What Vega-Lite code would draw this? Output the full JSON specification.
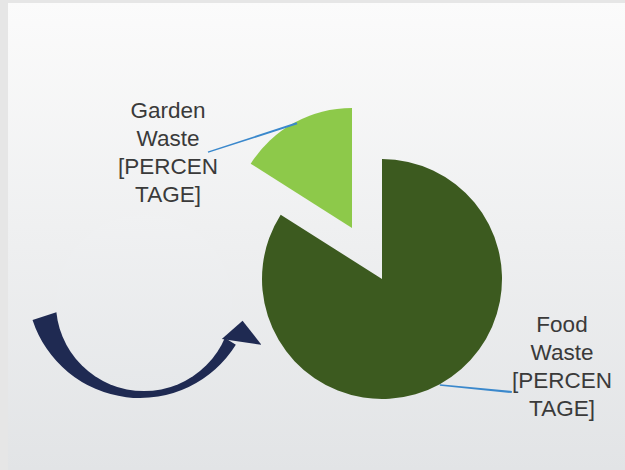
{
  "$schema": "https://vega.github.io/schema/vega-lite/v6.json",
  "width": 617,
  "height": 467,
  "autosize": {"type": "none"},
  "padding": {"left": 8, "top": 3, "right": 0, "bottom": 0},
  "background": "#e6e6e6",
  "config": {
    "view": {"stroke": null},
    "text": {"font": "Liberation Sans"}
  },
  "data": {"values": [
    {"category": "Food Waste", "value": 84, "label": "Food\nWaste\n[PERCEN\nTAGE]"},
    {"category": "Garden Waste", "value": 16, "label": "Garden\nWaste\n[PERCEN\nTAGE]"}
  ]},
  "layer": [
    {
      "data": {"values": [{"item": "panel"}]},
      "mark": {"type": "rect", "fill": {"gradient": "linear", "x1": 0, "y1": 0, "x2": 0, "y2": 1,
        "stops": [{"offset": 0, "color": "#fbfbfb"}, {"offset": 1, "color": "#e2e4e6"}]}},
      "encoding": {}
    },
    {
      "mark": {"type": "arc", "radius": 120, "xOffset": 65.5, "yOffset": 42.5},
      "encoding": {
        "theta": {"field": "value", "type": "quantitative", "stack": true},
        "color": {"field": "category", "type": "nominal", "scale": {"domain": ["Food Waste", "Garden Waste"], "range": ["#3c5a1f", "#8dc94a"]}, "legend": null},
        "opacity": {"condition": {"test": "datum.category === 'Food Waste'", "value": 1}, "value": 0}
      }
    },
    {
      "mark": {"type": "arc", "radius": 120, "xOffset": 35.5, "yOffset": -8.5},
      "encoding": {
        "theta": {"field": "value", "type": "quantitative", "stack": true},
        "color": {"field": "category", "type": "nominal", "legend": null},
        "opacity": {"condition": {"test": "datum.category === 'Garden Waste'", "value": 1}, "value": 0}
      }
    },
    {
      "transform": [{"filter": "datum.category === 'Garden Waste'"}],
      "mark": {"type": "text", "xOffset": -148.5, "yOffset": -125.5, "lineBreak": "\n", "fontSize": 22.5, "lineHeight": 28, "align": "center", "baseline": "middle", "color": "#3a3a3a"},
      "encoding": {"text": {"field": "label"}}
    },
    {
      "transform": [{"filter": "datum.category === 'Food Waste'"}],
      "mark": {"type": "text", "xOffset": 245.5, "yOffset": 88.5, "lineBreak": "\n", "fontSize": 22.5, "lineHeight": 28, "align": "center", "baseline": "middle", "color": "#3a3a3a"},
      "encoding": {"text": {"field": "label"}}
    },
    {
      "data": {"values": [{"item": "garden leader"}]},
      "mark": {"type": "arc", "theta": 1.2531, "theta2": 1.2601, "radius": 293.6, "radius2": 200, "xOffset": -298.7, "yOffset": -22.5, "color": "#3a88cc"},
      "encoding": {}
    },
    {
      "data": {"values": [{"item": "food leader"}]},
      "mark": {"type": "arc", "theta": 1.664, "theta2": 1.672, "radius": 272.3, "radius2": 200, "xOffset": -75.7, "yOffset": 129.1, "color": "#3a88cc"},
      "encoding": {}
    },
    {
      "data": {"values": [{"item": "arrow body"}]},
      "mark": {"type": "arc", "theta": 2.129, "theta2": 4.398, "radius": 113, "radius2": 0, "xOffset": -176.5, "yOffset": 48.5, "color": "#1f2a52"},
      "encoding": {}
    },
    {
      "data": {"values": [{"item": "arrow hollow"}]},
      "mark": {"type": "arc", "theta": 0, "theta2": 6.2832, "radius": 88.1, "radius2": 0, "xOffset": -172.5, "yOffset": 66.5,
        "fill": {"gradient": "linear", "x1": 0, "y1": 0, "x2": 0, "y2": 1,
          "stops": [{"offset": 0, "color": "#f0f1f2"}, {"offset": 1, "color": "#e6e8ea"}]}},
      "encoding": {}
    },
    {
      "data": {"values": [{"item": "arrowhead"}]},
      "mark": {"type": "point", "shape": "M-1,0.5L-0.1,-0.55L1,0.5Z", "size": 1600, "angle": 8, "filled": true, "opacity": 1, "color": "#1f2a52", "xOffset": -73.5, "yOffset": 95.5},
      "encoding": {}
    }
  ]
}
